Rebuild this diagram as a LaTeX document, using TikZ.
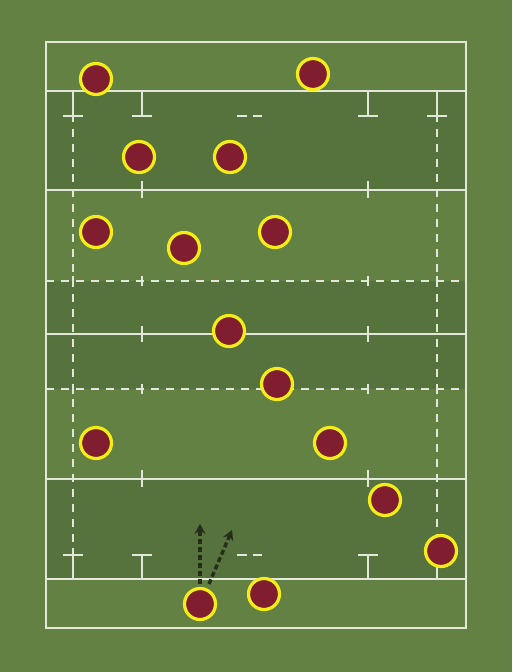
\documentclass[tikz,border=0pt]{standalone}
\usetikzlibrary{arrows.meta,shadows}
\definecolor{fieldlight}{RGB}{99,129,67}
\definecolor{fielddark}{RGB}{86,114,61}
\definecolor{linecol}{RGB}{225,232,218}
\definecolor{playerfill}{RGB}{128,30,48}
\definecolor{playerring}{RGB}{245,238,22}
\definecolor{arrowcol}{RGB}{34,46,26}
\tikzset{
  fline/.style={draw=linecol, line width=1.2pt},
  fdash/.style={draw=linecol, line width=1.2pt, dash pattern=on 8pt off 7pt},
  border/.style={draw=linecol, line width=1.8pt},
  player/.style={circle, draw=playerring, fill=playerfill, line width=3.2pt,
    minimum size=31pt, inner sep=0pt,
    drop shadow={opacity=0.25, shadow xshift=0.6pt, shadow yshift=-1.2pt}},
  run/.style={draw=arrowcol, line width=3.4pt, dash pattern=on 5pt off 3pt,
    -{Stealth[length=10pt,width=11pt,inset=3.5pt]}}
}
\begin{document}
\begin{tikzpicture}[x=1pt,y=-1pt]
\fill[fieldlight] (0,0) rectangle (512,672);
\useasboundingbox (0,0) rectangle (512,672);
% darker bands
\fill[fielddark] (46,91) rectangle (466,190);
\fill[fielddark] (46,281) rectangle (466,389);
\fill[fielddark] (46,479) rectangle (466,579);
% border
\draw[border] (46,42) rectangle (466,628);
% solid lines
\foreach \y in {91,190,334,479,579} \draw[fline] (46,\y) -- (466,\y);
% dashed 10m lines
\foreach \y in {281,389} \draw[fdash] (46,\y) -- (466,\y);
% 5m dashed verticals
\foreach \x in {73,437} {
  \draw[fline] (\x,91) -- (\x,122);
  \draw[fdash] (\x,129) -- (\x,548);
  \draw[fline] (\x,548) -- (\x,579);
  \draw[fline] (\x-10,116) -- (\x+10,116);
  \draw[fline] (\x-10,555) -- (\x+10,555);
}
% 15m T marks
\foreach \x in {142,368} {
  \draw[fline] (\x,91) -- (\x,116);
  \draw[fline] (\x-10,116) -- (\x+10,116);
  \draw[fline] (\x,555) -- (\x,579);
  \draw[fline] (\x-10,555) -- (\x+10,555);
  \draw[fline] (\x,181) -- (\x,198);
  \draw[fline] (\x,470) -- (\x,487);
  \draw[fline] (\x,326) -- (\x,342);
}
% centre dashes in 5m zones
\foreach \y in {116,555} {
  \draw[fline] (237,\y) -- (247,\y);
  \draw[fline] (253,\y) -- (262,\y);
}
% crosses on 10m lines
\foreach \y in {281,389} \foreach \x in {73,142,368,437}
  \draw[fline] (\x,\y-5) -- (\x,\y+5);
% players
\node[player] (p1) at (96,79) {};
\node[player] (p2) at (313,74) {};
\node[player] (p3) at (139,157) {};
\node[player] (p4) at (230,157) {};
\node[player] (p5) at (96,232) {};
\node[player] (p6) at (184,248) {};
\node[player] (p7) at (275,232) {};
\node[player] (p8) at (229,331) {};
\node[player] (p9) at (277,384) {};
\node[player] (p10) at (96,443) {};
\node[player] (p11) at (330,443) {};
\node[player] (p12) at (385,500) {};
\node[player] (p13) at (441,551) {};
\node[player] (p14) at (200,604) {};
\node[player] (p15) at (264,594) {};
% runs
\coordinate (s1) at (200,584);
\coordinate (a1) at (200,524);
\coordinate (s2) at (209,584);
\coordinate (a2) at (232,530);
\draw[run] (s1) -- (a1);
\draw[run] (s2) -- (a2);
\end{tikzpicture}
\end{document}
